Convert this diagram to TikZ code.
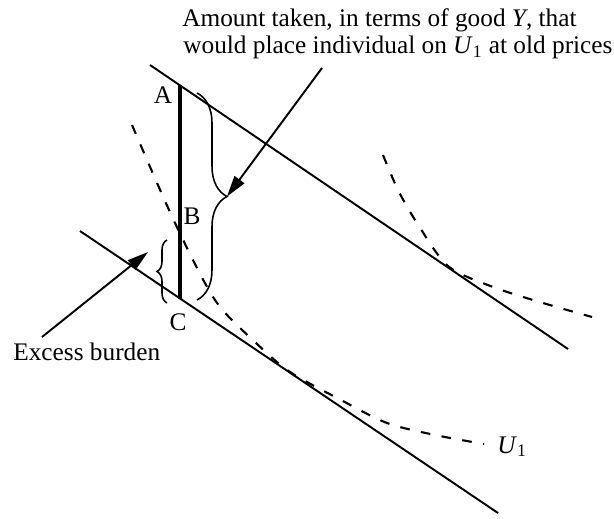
\documentclass[tikz,border=0pt]{standalone}
\usepackage{fontspec}
\setmainfont{Liberation Serif}
\usetikzlibrary{arrows.meta,decorations.pathreplacing}

\begin{document}
\begin{tikzpicture}[font=\fontsize{14.4}{17}\selectfont,
    garis/.style={line width=1.1pt},
    kurva/.style={line width=1.2pt, dash pattern=on 5.5pt off 6.5pt},
    kurung/.style={line width=0.9pt, decorate, decoration={brace, amplitude=#1}},
    panah/.style={line width=1.1pt, -{Triangle[length=0.42cm,width=0.24cm]}},
    teks/.style={inner sep=0pt, anchor=base west}]
    \useasboundingbox (0,0) rectangle (12.28,10.36);

    % Garis anggaran
    \coordinate (ua) at (3.00,9.06);
    \coordinate (ub) at (11.36,3.38);
    \coordinate (la) at (1.60,5.74);
    \coordinate (lb) at (9.96,0.10);
    \draw[garis] (ua) -- (ub);
    \draw[garis] (la) -- (lb);

    % Kurva indiferen
    \draw[kurva] plot[smooth] coordinates {(2.64,7.86) (3.50,5.90) (4.30,4.36) (5.10,3.52)
      (5.80,2.92) (6.80,2.37) (7.74,1.90) (8.70,1.66) (9.68,1.48)};
    \draw[kurva] plot[smooth] coordinates {(7.66,7.26) (7.96,6.56) (8.34,5.90) (8.96,5.04)
      (9.86,4.62) (10.86,4.30) (11.84,4.02)};
    \node[teks] (lblU) at (9.94,1.30) {\textit{U}\textsubscript{1}};

    % Jarak A ke C
    \coordinate (A) at (3.60,8.65);
    \coordinate (C) at (3.60,4.39);
    \draw[line width=2.2pt] (A) -- (C);
    \node[inner sep=0pt] (lblA) at (3.26,8.46) {A};
    \node[inner sep=0pt] (lblB) at (3.84,6.04) {B};
    \node[inner sep=0pt] (lblC) at (3.56,3.92) {C};

    % Kurung kurawal
    \draw[kurung=0.6cm] (3.94,8.50) -- coordinate[xshift=0.6cm] (tipBesar) (3.94,4.36);
    \draw[kurung=0.2cm] (3.34,4.30) -- coordinate[xshift=-0.2cm] (tipKecil) (3.34,5.56);

    % Keterangan
    \node[teks] (judul1) at (3.64,9.83) {Amount taken, in terms of good \textit{Y}, that};
    \node[teks] (judul2) at (3.66,9.29) {would place individual on \textit{U}\textsubscript{1} at old prices};
    \coordinate (ekor1) at (6.44,9.00);
    \draw[panah] (ekor1) -- (tipBesar);

    \node[teks] (beban) at (0.26,3.16) {Excess burden};
    \coordinate (ekor2) at (0.84,3.62);
    \coordinate (kepala2) at (2.96,5.32);
    \draw[panah] (ekor2) -- (kepala2);
  \end{tikzpicture}
\end{document}
